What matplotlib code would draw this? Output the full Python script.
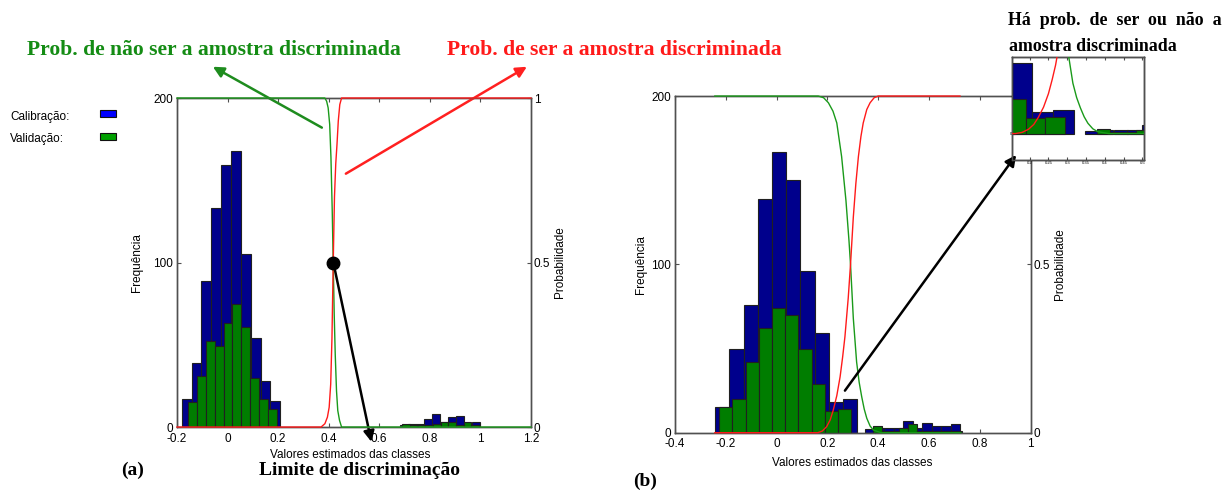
import matplotlib
matplotlib.use("Agg")
import matplotlib.pyplot as plt
import numpy as np
from matplotlib.patches import Rectangle

plt.rcParams['font.family'] = ['Liberation Sans', 'DejaVu Sans']
plt.rcParams['font.size'] = 8.5

# ---- panel (a) histograms: bin centres and counts ----
a_cal_x = [-0.162, -0.123, -0.084, -0.045, -0.006, 0.033, 0.072, 0.111, 0.150, 0.189,
           0.699, 0.730, 0.762, 0.794, 0.825, 0.857, 0.888, 0.920, 0.951, 0.983]
a_cal_n = [17, 39, 89, 133, 159, 168, 105, 54, 28, 16,
           1, 2, 2, 5, 8, 3, 6, 7, 2, 3]
a_cal_w = [0.0389] * 10 + [0.0316] * 10

a_val_x = [-0.138, -0.103, -0.068, -0.033, 0.002, 0.037, 0.072, 0.107, 0.142, 0.177,
           0.706, 0.736, 0.767, 0.797, 0.828, 0.858, 0.889, 0.919, 0.949, 0.980]
a_val_n = [15, 31, 52, 49, 63, 75, 61, 30, 17, 11,
           2, 1, 1, 1, 2, 3, 3, 1, 3, 1]
a_val_w = [0.035] * 10 + [0.0304] * 10

# panel (a) class probabilities
a_red_x = [-0.2, 0.370, 0.385, 0.395, 0.402, 0.408, 0.413, 0.418, 0.423, 0.428,
           0.433, 0.438, 0.444, 0.451, 1.2]
a_red_p = [0, 0, 0.01, 0.03, 0.06, 0.13, 0.27, 0.50, 0.70, 0.80,
           0.86, 0.93, 0.98, 1, 1]
a_grn_x = [-0.2, 0.385, 0.392, 0.398, 0.404, 0.409, 0.414, 0.418, 0.422, 0.426,
           0.431, 0.436, 0.443, 0.451, 1.2]
a_grn_p = [1, 1, 0.99, 0.97, 0.92, 0.82, 0.66, 0.50, 0.34, 0.22,
           0.11, 0.05, 0.02, 0, 0]
a_limit_x = 0.418
a_limit_p = 0.5

# ---- panel (b) ----
b_cal_x = [-0.214, -0.158, -0.102, -0.046, 0.010, 0.066, 0.122, 0.178, 0.234, 0.290,
           0.367, 0.404, 0.442, 0.479, 0.517, 0.554, 0.592, 0.629, 0.667, 0.704]
b_cal_n = [15, 50, 76, 139, 167, 150, 96, 59, 18, 20,
           2, 3, 3, 3, 7, 3, 6, 4, 4, 5]
b_cal_w = [0.056] * 10 + [0.0375] * 10

b_val_x = [-0.200, -0.148, -0.096, -0.044, 0.008, 0.060, 0.112, 0.164, 0.215, 0.267,
           0.396, 0.431, 0.466, 0.501, 0.536, 0.571, 0.606, 0.641, 0.676, 0.711]
b_val_n = [15, 20, 42, 62, 74, 70, 50, 29, 13, 14,
           4, 1, 1, 3, 5, 1, 1, 1, 1, 1]
b_val_w = [0.0519] * 10 + [0.035] * 10

b_red_x = [-0.243, 0.162, 0.180, 0.197, 0.211, 0.223, 0.237, 0.250, 0.260, 0.269,
           0.282, 0.291, 0.302, 0.312, 0.322, 0.332, 0.341, 0.355, 0.368, 0.384,
           0.400, 0.722]
b_red_p = [0, 0, 0.005, 0.018, 0.038, 0.067, 0.110, 0.166, 0.225, 0.285,
           0.40, 0.50, 0.64, 0.74, 0.82, 0.88, 0.92, 0.96, 0.98, 0.995,
           1, 1]
b_grn_x = [-0.243, 0.164, 0.185, 0.204, 0.222, 0.237, 0.256, 0.273, 0.285, 0.291,
           0.302, 0.315, 0.325, 0.335, 0.345, 0.355, 0.368, 0.381, 0.410, 0.722]
b_grn_p = [1, 1, 0.995, 0.98, 0.955, 0.92, 0.82, 0.69, 0.57, 0.50,
           0.34, 0.21, 0.15, 0.107, 0.07, 0.043, 0.02, 0.008, 0, 0]

CAL = '#00008c'
VAL = '#007d00'
SPINE = '#505050'
SERIF = ['Liberation Serif', 'DejaVu Serif']


def style_axes(ax, axp, size=8.5, length=3, pad=4):
    for a in (ax, axp):
        for s in a.spines.values():
            s.set_color(SPINE)
            s.set_linewidth(1.0)
    ax.tick_params(direction='in', top=True, right=False, length=length,
                   width=0.8, pad=pad, labelsize=size, color=SPINE)
    ax.tick_params(axis='y', pad=pad - 1)
    axp.tick_params(direction='in', length=length, width=0.8, pad=2,
                    labelsize=size, color=SPINE)


def draw_hist(ax, axp, cal, val, red, grn, clip=False):
    ax.bar(cal[0], cal[1], width=cal[2], color=CAL, edgecolor='#202020',
           linewidth=0.8, zorder=2)
    ax.bar(val[0], val[1], width=val[2], color=VAL, edgecolor='#202020',
           linewidth=0.8, zorder=3)
    axp.plot(grn[0], grn[1], color='#1a9a1a', lw=1.0, zorder=3, clip_on=clip)
    axp.plot(red[0], red[1], color='#ff1a1a', lw=1.0, zorder=3, clip_on=clip)


fig = plt.figure(figsize=(12.29, 4.91), dpi=100)

# ---------------- (a) ----------------
ax_a = fig.add_axes([0.1440, 0.1303, 0.2880, 0.6701])
ax_a2 = ax_a.twinx()
draw_hist(ax_a, ax_a2, (a_cal_x, a_cal_n, a_cal_w), (a_val_x, a_val_n, a_val_w),
          (a_red_x, a_red_p), (a_grn_x, a_grn_p))
ax_a.set_xlim(-0.2, 1.2)
ax_a.set_ylim(0, 200)
ax_a2.set_ylim(0, 1)
ax_a.set_xticks([-0.2, 0, 0.2, 0.4, 0.6, 0.8, 1.0, 1.2])
ax_a.set_xticklabels(['-0.2', '0', '0.2', '0.4', '0.6', '0.8', '1', '1.2'])
ax_a.set_yticks([0, 100, 200])
ax_a2.set_yticks([0, 0.5, 1])
ax_a2.set_yticklabels(['0', '0.5', '1'])
style_axes(ax_a, ax_a2)
ax_a.set_xlabel('Valores estimados das classes')
ax_a.xaxis.set_label_coords(0.49, -0.068)
ax_a.set_ylabel('Frequência')
ax_a.yaxis.set_label_coords(-0.095, 0.5)
ax_a2.set_ylabel('Probabilidade')
ax_a2.yaxis.set_label_coords(1.066, 0.5)

ax_a2.plot(a_limit_x, a_limit_p, 'o', color='black', markersize=9, zorder=6,
           clip_on=False)

arrow = dict(arrowstyle='-|>', lw=1.8, mutation_scale=16, shrinkA=0, shrinkB=0)
ax_a.annotate('', xy=(-0.058, 219), xytext=(0.373, 182), annotation_clip=False,
              arrowprops=dict(arrow, color='#1e8c1e'))
ax_a.annotate('', xy=(1.184, 219), xytext=(0.468, 154), annotation_clip=False,
              arrowprops=dict(arrow, color='#ff2020'))
ax_a.annotate('', xy=(0.569, -9), xytext=(0.417, 101), annotation_clip=False,
              arrowprops=dict(arrow, color='black'), zorder=7)

# ---------------- (b) ----------------
ax_b = fig.add_axes([0.5492, 0.1187, 0.2894, 0.6857])
ax_b2 = ax_b.twinx()
draw_hist(ax_b, ax_b2, (b_cal_x, b_cal_n, b_cal_w), (b_val_x, b_val_n, b_val_w),
          (b_red_x, b_red_p), (b_grn_x, b_grn_p))
ax_b.set_xlim(-0.4, 1.0)
ax_b.set_ylim(0, 200)
ax_b2.set_ylim(0, 1)
ax_b.set_xticks([-0.4, -0.2, 0, 0.2, 0.4, 0.6, 0.8, 1.0])
ax_b.set_xticklabels(['-0.4', '-0.2', '0', '0.2', '0.4', '0.6', '0.8', '1'])
ax_b.set_yticks([0, 100, 200])
ax_b2.set_yticks([0, 0.5, 1])
ax_b2.set_yticklabels(['0', '0.5', '1'])
style_axes(ax_b, ax_b2)
ax_b.set_xlabel('Valores estimados das classes')
ax_b.xaxis.set_label_coords(0.498, -0.072)
ax_b.set_ylabel('Frequência')
ax_b.yaxis.set_label_coords(-0.080, 0.5)
ax_b2.set_ylabel('Probabilidade')
ax_b2.yaxis.set_label_coords(1.067, 0.5)

# zoomed inset over the overlap region
ax_in = fig.add_axes([0.8237, 0.6741, 0.1074, 0.2104])
ax_in2 = ax_in.twinx()
draw_hist(ax_in, ax_in2, (b_cal_x, b_cal_n, b_cal_w), (b_val_x, b_val_n, b_val_w),
          (b_red_x, b_red_p), (b_grn_x, b_grn_p), clip=True)
ax_in.set_xlim(0.154, 0.505)
ax_in.set_ylim(-22, 64)
ax_in2.set_ylim(-0.11, 0.32)
ax_in.set_xticks([0.2, 0.25, 0.3, 0.35, 0.4, 0.45, 0.5])
ax_in.set_xticklabels(['0.2', '0.25', '0.3', '0.35', '0.4', '0.45', '0.5'])
ax_in.set_yticks([0])
ax_in2.set_yticks([])
style_axes(ax_in, ax_in2, size=3, length=2, pad=1)
for s in ax_in.spines.values():
    s.set_color('black')

ax_in.annotate('', xy=(0.943, 165), xytext=(0.269, 25), xycoords=ax_b.transData,
               textcoords=ax_b.transData, annotation_clip=False,
               arrowprops=dict(arrow, color='black'), zorder=8)

# ---------------- annotations ----------------
W, H = 1229, 491


def ftext(x, y, s, **kw):
    fig.text(x / W, 1 - y / H, s, **kw)


ftext(214, 50, 'Prob. de não ser a amostra discriminada', color='#148c14',
      family=SERIF, weight='bold', fontsize=15.6, ha='center', va='center')
ftext(614, 50, 'Prob. de ser a amostra discriminada', color='#ff1a1a',
      family=SERIF, weight='bold', fontsize=15.6, ha='center', va='center')
ftext(360, 475, 'Limite de discriminação', family=SERIF, weight='bold',
      fontsize=14, ha='center', va='baseline')
ftext(133, 475, '(a)', family=SERIF, weight='bold', fontsize=14,
      ha='center', va='baseline')
ftext(645, 486, '(b)', family=SERIF, weight='bold', fontsize=14,
      ha='center', va='baseline')
ftext(1008, 25, 'Há  prob.  de  ser  ou  não  a', family=SERIF, weight='bold',
      fontsize=12.9, ha='left', va='baseline')
ftext(1009, 51, 'amostra discriminada', family=SERIF, weight='bold',
      fontsize=12.9, ha='left', va='baseline')

# legend
ftext(10, 120, 'Calibração:', fontsize=8.5, ha='left', va='baseline')
ftext(10, 142, 'Validação:', fontsize=8.5, ha='left', va='baseline')
fig.add_artist(Rectangle((100 / W, 1 - 117 / H), 16 / W, 7 / H,
                         transform=fig.transFigure, facecolor='#0000ff',
                         edgecolor='#101010', linewidth=0.8))
fig.add_artist(Rectangle((100 / W, 1 - 140 / H), 16 / W, 7 / H,
                         transform=fig.transFigure, facecolor='#00a000',
                         edgecolor='#101010', linewidth=0.8))

fig.savefig('out.png', dpi=100)
